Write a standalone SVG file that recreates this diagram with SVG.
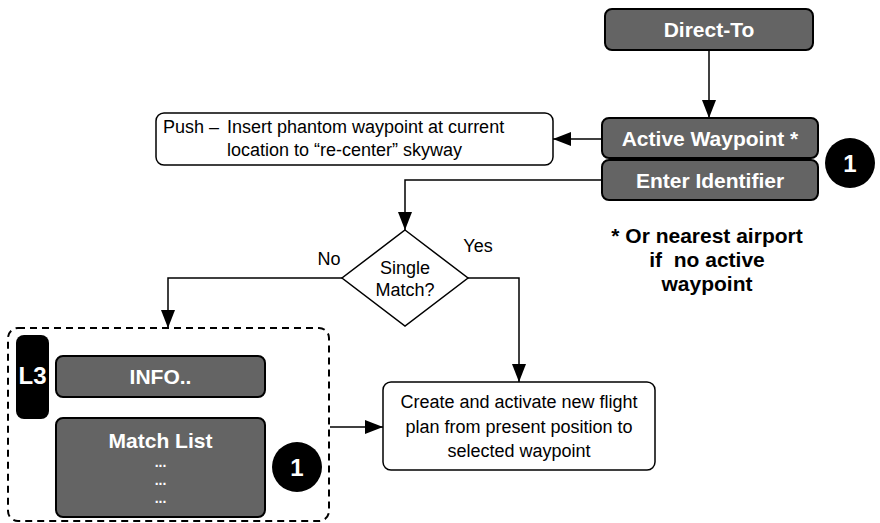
<svg xmlns="http://www.w3.org/2000/svg" width="880" height="523" viewBox="0 0 880 523">
  <defs>
    <marker id="arrow" viewBox="0 0 18 14" refX="18" refY="7" markerWidth="18" markerHeight="14" markerUnits="userSpaceOnUse" orient="auto">
      <path d="M0,0 L18,7 L0,14 z" fill="#000"/>
    </marker>
    <style>
      .key { fill: #646464; stroke: #000; stroke-width: 2; }
      .note { fill: #fff; stroke: #000; stroke-width: 1.5; }
      .badge { fill: #000; }
      .kt { font-family: "Liberation Sans", Arial, sans-serif; font-weight: bold; font-size: 21px; fill: #fff; text-anchor: middle; }
      .bt { font-family: "Liberation Sans", Arial, sans-serif; font-weight: bold; font-size: 24px; fill: #fff; text-anchor: middle; }
      .rt { font-family: "Liberation Sans", Arial, sans-serif; font-size: 18px; fill: #000; }
      .ft { font-family: "Liberation Sans", Arial, sans-serif; font-weight: bold; font-size: 21px; fill: #000; text-anchor: middle; }
      .dots { font-family: "Liberation Sans", Arial, sans-serif; font-weight: bold; font-size: 14px; fill: #fff; text-anchor: middle; }
      .wire { fill: none; stroke: #000; stroke-width: 1.5; }
    </style>
  </defs>

  <!-- connectors -->
  <g id="connectors">
    <path class="wire" d="M709,50 L709,118" marker-end="url(#arrow)"/>
    <path class="wire" d="M602,139 L553,139" marker-end="url(#arrow)"/>
    <path class="wire" d="M602,180 L405,180 L405,230" marker-end="url(#arrow)"/>
    <path class="wire" d="M342,278 L168,278 L168,328" marker-end="url(#arrow)"/>
    <path class="wire" d="M468,278 L519,278 L519,382" marker-end="url(#arrow)"/>
    <path class="wire" d="M330,427 L383,427" marker-end="url(#arrow)"/>
  </g>

  <g id="direct-to">
    <rect class="key" x="605" y="9" width="208" height="41" rx="7"/>
    <text class="kt" x="709" y="37">Direct-To</text>
  </g>

  <g id="active-waypoint">
    <rect class="key" x="602" y="118" width="216" height="40" rx="7"/>
    <text class="kt" x="710" y="146">Active Waypoint *</text>
  </g>

  <g id="enter-identifier">
    <rect class="key" x="602" y="160" width="216" height="40" rx="7"/>
    <text class="kt" x="710" y="188">Enter Identifier</text>
  </g>

  <g id="badge-top">
    <circle class="badge" cx="850" cy="163" r="25"/>
    <text class="bt" x="850" y="171.5">1</text>
  </g>

  <g id="push-note">
    <rect class="note" x="156" y="113" width="397" height="52" rx="8"/>
    <text class="rt" x="163" y="133">Push –</text>
    <text class="rt" x="227" y="133">Insert phantom waypoint at current</text>
    <text class="rt" x="227" y="156">location to “re-center” skyway</text>
  </g>

  <g id="single-match">
    <polygon class="note" points="405,230 468,278 405,326 342,278"/>
    <text class="rt" x="405" y="274" text-anchor="middle">Single</text>
    <text class="rt" x="405" y="296" text-anchor="middle">Match?</text>
  </g>

  <g id="branch-labels">
    <text class="rt" x="478" y="252" text-anchor="middle">Yes</text>
    <text class="rt" x="329" y="265" text-anchor="middle">No</text>
  </g>

  <g id="footnote">
    <text class="ft" x="707" y="243">* Or nearest airport</text>
    <text class="ft" x="707" y="267" xml:space="preserve">if  no active</text>
    <text class="ft" x="707" y="291">waypoint</text>
  </g>

  <g id="match-group">
    <rect x="8" y="328" width="321" height="193" rx="10" fill="none" stroke="#000" stroke-width="2" stroke-dasharray="7 5"/>
  </g>

  <g id="l3-tab">
    <rect class="badge" x="16" y="335" width="33" height="84" rx="8"/>
    <text class="bt" x="32.5" y="383.5">L3</text>
  </g>

  <g id="info">
    <rect class="key" x="56" y="356" width="209" height="41" rx="7"/>
    <text class="kt" x="160.5" y="384">INFO..</text>
  </g>

  <g id="match-list">
    <rect class="key" x="56" y="418" width="209" height="99" rx="7"/>
    <text class="kt" x="160.5" y="448">Match List</text>
    <text class="dots" x="160.5" y="467">...</text>
    <text class="dots" x="160.5" y="485">...</text>
    <text class="dots" x="160.5" y="503">...</text>
  </g>

  <g id="badge-list">
    <circle class="badge" cx="297" cy="467" r="25"/>
    <text class="bt" x="297" y="475.5">1</text>
  </g>

  <g id="create-plan">
    <rect class="note" x="383" y="382" width="272" height="88" rx="8"/>
    <text class="rt" x="519" y="408" text-anchor="middle">Create and activate new flight</text>
    <text class="rt" x="519" y="432.5" text-anchor="middle">plan from present position to</text>
    <text class="rt" x="519" y="457" text-anchor="middle">selected waypoint</text>
  </g>
</svg>
